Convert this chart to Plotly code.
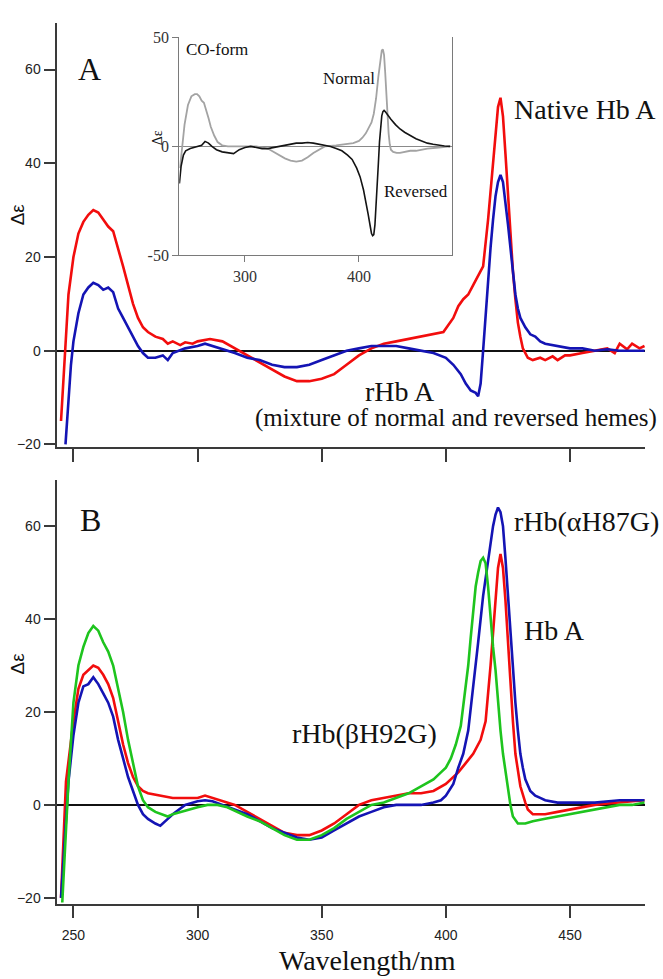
import plotly.graph_objects as go

# ---------------- data ----------------
# Panel A: Native Hb A (red)
a_native_wl = [245, 246, 247, 248, 250, 252, 254, 256, 258, 260, 262, 264, 266, 268, 270, 272, 274, 276, 278, 280,
               283, 286, 288, 290, 293, 295, 298, 300, 305, 310, 315, 320, 325, 330, 335, 340, 345, 350, 355, 360,
               365, 370, 375, 380, 385, 390, 395, 399, 403, 405, 407, 409, 411, 413, 415, 417, 419, 420, 421, 422,
               423, 424, 425, 426, 427, 428, 429, 430, 431, 433, 435, 438, 440, 443, 445, 448, 450, 455, 460, 465,
               468, 470, 473, 475, 478, 480]
a_native_val = [-15, -5, 5, 12, 20, 25, 27.5, 29, 30, 29.5, 28, 26.5, 25.5, 22, 18, 14, 10, 7, 5, 4,
                3, 2.5, 1.5, 2, 1.2, 1.8, 1.5, 2, 2.5, 2, 0.5, -1, -2.5, -4, -5.5, -6.5, -6.5, -6, -5, -3,
                -1, 0.5, 1.5, 2, 2.5, 3, 3.5, 4, 7, 9.5, 11, 12, 14, 16, 18, 28, 40, 47, 52, 54,
                50, 42, 33, 25, 17, 11, 6, 3, 0.5, -1.5, -2, -1.5, -2, -1.2, -2, -1, -1, -0.5, 0, 0.5,
                -0.5, 1.5, 0.3, 1.5, 0.5, 1]

# Panel A: rHb A (blue)
a_rhb_wl = [246.8, 248, 249, 250, 252, 254, 256, 258, 260, 262, 264, 266, 268, 270, 272, 274, 276, 278, 280, 283,
            286, 288, 290, 295, 300, 303, 306, 310, 315, 320, 325, 330, 335, 340, 345, 350, 355, 360, 365, 370,
            375, 380, 385, 390, 395, 400, 403, 406, 408, 410, 412, 413, 414, 415, 416, 417, 418, 419, 420, 421,
            422, 423, 424, 425, 426, 427, 428, 429, 430, 432, 434, 436, 438, 440, 445, 450, 455, 460, 465, 470,
            475, 480]
a_rhb_val = [-20, -10, -3, 2, 8, 12, 13.5, 14.5, 14, 13, 13.5, 12.5, 9, 7, 5, 3, 1, -0.5, -1.5, -1.5,
             -1, -2, -0.5, 0.5, 1, 1.5, 1, 0.5, -0.5, -1.5, -2, -3, -3.5, -3.5, -3, -2, -1, 0, 0.5, 1,
             1, 1, 0.5, 0, -0.5, -1.5, -3, -5, -7, -8.5, -9, -9.7, -7, 0, 8, 15, 22, 28, 33, 36,
             37.5, 36, 32, 27, 22, 17, 12, 9, 7, 5, 3.5, 3, 2, 1.5, 1, 0.5, 0.5, 0, 0.3, 0,
             0, 0]

# Panel B: Hb A (red)
b_hba_wl = [245, 247, 250, 252, 254, 256, 258, 260, 262, 264, 266, 268, 270, 272, 274, 276, 278, 280, 285, 290,
            295, 300, 303, 306, 310, 315, 320, 325, 330, 335, 340, 345, 350, 355, 360, 365, 370, 375, 380, 385,
            390, 395, 400, 405, 408, 411, 414, 416, 418, 420, 421, 422, 423, 424, 425, 426, 427, 428, 429, 430,
            432, 433, 435, 440, 445, 450, 455, 460, 465, 470, 475, 480]
b_hba_val = [-20, 5, 18, 25, 28, 29, 30, 29.5, 28, 26, 23, 18, 13, 9, 6, 4, 3, 2.5, 2, 1.5,
             1.5, 1.5, 2, 1.5, 1, 0, -1.5, -3, -4.5, -6, -6.5, -6.5, -5.5, -4, -2, 0, 1, 1.5, 2, 2.5,
             2.5, 3, 4.5, 7, 9, 11, 14, 18, 30, 45, 51, 54, 51, 44, 35, 26, 18, 11, 7, 4,
             0.5, -1, -2, -2, -1.5, -1, -0.5, 0, 0.3, 0.5, 0.8, 1]

# Panel B: rHb(alphaH87G) (blue)
b_alpha_wl = [245, 248, 250, 252, 254, 256, 258, 260, 262, 264, 266, 268, 270, 272, 274, 276, 278, 280, 283, 285,
              288, 290, 295, 300, 303, 306, 310, 315, 320, 325, 330, 335, 340, 345, 350, 355, 360, 365, 370, 375,
              380, 385, 390, 395, 398, 400, 403, 405, 407, 409, 411, 413, 415, 417, 419, 420, 421, 422, 423, 424,
              425, 426, 427, 428, 429, 430, 431, 432, 434, 436, 438, 440, 445, 450, 460, 470, 480]
b_alpha_val = [-20, 5, 15, 22, 25.5, 26, 27.5, 26, 24, 22, 19, 14, 10, 6, 3, 0, -2, -3, -4, -4.5,
               -3, -2, 0, 0.8, 1, 0.8, 0, -1, -2, -3.5, -5, -6, -7, -7.5, -7, -5.5, -4, -2.5, -1.5, -0.5,
               0, 0, 0, 0.5, 1, 2, 4.5, 8, 11, 16, 25, 35, 45, 53, 60, 62.5, 64, 63, 60, 53,
               45, 37, 29, 22, 16, 11, 8, 5.5, 3, 2, 1.5, 1, 0.5, 0.5, 0.5, 1, 1]

# Panel B: rHb(betaH92G) (green)
b_beta_wl = [245.5, 248, 250, 252, 254, 256, 258, 260, 262, 264, 266, 268, 270, 272, 274, 276, 278, 280, 283, 286,
             288, 290, 293, 296, 300, 304, 308, 312, 316, 320, 325, 330, 335, 340, 345, 350, 355, 360, 365, 370,
             375, 380, 385, 390, 395, 398, 400, 402, 404, 406, 408, 409, 410, 411, 412, 413, 414, 415, 416, 417,
             418, 419, 420, 421, 422, 423, 424, 425, 426, 427, 429, 432, 435, 440, 445, 450, 455, 460, 465, 470,
             475, 480]
b_beta_val = [-21, 5, 22, 30, 34, 37, 38.5, 37.5, 35, 33, 30, 25, 20, 14, 9, 4, 1, -0.5, -1.5, -2,
              -2.5, -2, -1.5, -1, -0.5, 0, 0, -0.5, -1.5, -2.5, -3.5, -5, -6.5, -7.5, -7.5, -6.5, -5, -3, -1.5, 0,
              0.5, 1.5, 2.5, 4, 5.5, 7, 8, 10, 13, 17, 25, 30, 36, 42, 47, 50, 52.5, 53.2, 52, 47,
              40, 34, 29, 22, 16, 11, 7, 3, 0, -2.5, -4, -4, -3.5, -3, -2.5, -2, -1.5, -1, -0.5, 0,
              0, 0.5]

# Inset (CO-form): Normal (gray) and Reversed (black)
ins_normal_wl = [243, 245, 247, 250, 253, 256, 258, 260, 262, 264, 266, 268, 270, 273, 276, 280, 285, 290, 300, 310,
                 320, 325, 330, 335, 340, 345, 350, 355, 360, 365, 370, 380, 390, 395, 400, 403, 406, 409, 411, 413,
                 415, 417, 419, 420, 421, 422, 423, 424, 425, 426, 427, 428, 430, 433, 436, 440, 445, 450, 460, 470,
                 480]
ins_normal_val = [-10, 0, 10, 19, 23, 24, 24, 23, 21, 20, 17, 13, 9, 5, 2, 0.5, 0, 0, 0, 0,
                  -1, -2.5, -4, -5.5, -6.5, -7, -6.5, -5, -3, -1.5, 0, 0.5, 1, 1.5, 2.5, 4, 6, 9, 11, 15,
                  22, 32, 41, 44, 44.5, 42, 34, 24, 14, 6, 1, -1.5, -2.5, -3, -3, -2.5, -2, -2, -1, -0.5,
                  0]
ins_rev_wl = [242.5, 244, 246, 248, 252, 255, 258, 262, 265, 268, 271, 275, 280, 285, 290, 295, 300, 305, 310, 315,
              320, 325, 330, 335, 340, 345, 350, 355, 360, 365, 370, 375, 380, 385, 390, 394, 398, 401, 404, 406,
              408, 410, 411, 412, 413, 414, 415, 416, 417, 418, 419, 420, 421, 422, 423, 425, 428, 432, 436, 440,
              445, 450, 455, 460, 465, 470, 475, 480]
ins_rev_val = [-17, -9, -4, -2, -1, -0.5, 0, 0.5, 2.3, 1.5, 0, -1.5, -2.5, -3, -3.3, -1.5, -0.5, 0, -0.5, -1,
               -1, -0.5, 0, 0.5, 1, 1.5, 1.5, 1.8, 1.5, 1, 0.5, 0, -1, -2, -4, -6, -10, -14, -20, -25,
               -31, -37, -40, -41, -40.5, -36, -28, -18, -8, 2, 9, 14, 16, 16.5, 16, 14.5, 12.5, 10, 8, 6.5,
               5, 3.5, 2.5, 1.5, 1, 0.5, 0.2, 0]

main_xticks = [250, 300, 350, 400, 450]
main_yticks = [-20, 0, 20, 40, 60]
main_yticktext = ["\u221220", "0", "20", "40", "60"]
inset_xticks = [300, 400]
inset_yticks = [-50, 0, 50]
inset_yticktext = ["-50", "0", "50"]

# ---------------- figure ----------------
W, H = 663, 979
RED, BLUE, GREEN = "#f20d0d", "#1414b4", "#1ec41e"
GRAY, BLACK = "#a3a3a3", "#141414"
SERIF = "Liberation Serif, Times New Roman, serif"
SANS = "Liberation Sans, Arial, sans-serif"
AX = "#3a3a3a"


def px_x(x):
    return x / W


def px_y(y):
    return (H - y) / H


fig = go.Figure()
lw = 2.6
fig.add_trace(go.Scatter(x=a_native_wl, y=a_native_val, mode="lines", line=dict(color=RED, width=lw),
                         xaxis="x", yaxis="y"))
fig.add_trace(go.Scatter(x=a_rhb_wl, y=a_rhb_val, mode="lines", line=dict(color=BLUE, width=lw),
                         xaxis="x", yaxis="y"))
fig.add_trace(go.Scatter(x=b_hba_wl, y=b_hba_val, mode="lines", line=dict(color=RED, width=lw),
                         xaxis="x2", yaxis="y2"))
fig.add_trace(go.Scatter(x=b_alpha_wl, y=b_alpha_val, mode="lines", line=dict(color=BLUE, width=lw),
                         xaxis="x2", yaxis="y2"))
fig.add_trace(go.Scatter(x=b_beta_wl, y=b_beta_val, mode="lines", line=dict(color=GREEN, width=lw),
                         xaxis="x2", yaxis="y2"))
fig.add_trace(go.Scatter(x=ins_normal_wl, y=ins_normal_val, mode="lines", line=dict(color=GRAY, width=1.8),
                         xaxis="x3", yaxis="y3"))
fig.add_trace(go.Scatter(x=ins_rev_wl, y=ins_rev_val, mode="lines", line=dict(color=BLACK, width=1.6),
                         xaxis="x3", yaxis="y3"))

main_dom_x = [px_x(57.3), px_x(645)]
common_x = dict(range=[243.5, 480.2], showgrid=False, zeroline=False, showline=True, linecolor=AX,
                linewidth=1.6, ticks="outside", tickwidth=1.6, tickcolor=AX, tickvals=main_xticks,
                tickfont=dict(family=SANS, size=14, color="#222"))
common_y = dict(showgrid=False, zeroline=True, zerolinecolor="#111", zerolinewidth=1.6, showline=True,
                linecolor=AX, linewidth=1.6, ticks="outside", ticklen=12, tickwidth=1.6, tickcolor=AX,
                tickvals=main_yticks, ticktext=main_yticktext,
                tickfont=dict(family=SANS, size=14, color="#222"))

fig.update_layout(
    width=W, height=H, margin=dict(l=0, r=0, t=0, b=0),
    paper_bgcolor="white", plot_bgcolor="rgba(0,0,0,0)", showlegend=False,
    xaxis=dict(domain=main_dom_x, anchor="y", ticklen=13, showticklabels=False, **common_x),
    yaxis=dict(domain=[px_y(447), px_y(15)], anchor="x", range=[-20.6, 70], **common_y),
    xaxis2=dict(domain=main_dom_x, anchor="y2", ticklen=12, showticklabels=True, ticklabelstandoff=6,
                **common_x),
    yaxis2=dict(domain=[px_y(911.7), px_y(480)], anchor="x2", range=[-21.3, 70], **common_y),
    xaxis3=dict(domain=[px_x(179.3), px_x(452)], anchor="y3", range=[242.4, 481.6], showgrid=False,
                zeroline=False, showline=True, linecolor="#7a7a7a", linewidth=1.3, ticks="outside",
                ticklen=6, tickwidth=1.3, tickcolor="#7a7a7a", tickvals=inset_xticks,
                tickfont=dict(family=SERIF, size=16, color="#333")),
    yaxis3=dict(domain=[px_y(251.7), px_y(30)], anchor="x3", range=[-50, 50], showgrid=False,
                zeroline=True, zerolinecolor="#8a8a8a", zerolinewidth=1.3, showline=True, mirror=True,
                linecolor="#7a7a7a", linewidth=1.3, ticks="outside", ticklen=6, tickwidth=1.3,
                tickcolor="#7a7a7a", tickvals=inset_yticks, ticktext=inset_yticktext,
                tickfont=dict(family=SERIF, size=16, color="#333")),
)


def label(text, x, y, size, family=SERIF, xanchor="left", angle=0, color="#111"):
    fig.add_annotation(text=text, x=px_x(x), y=px_y(y), xref="paper", yref="paper", showarrow=False,
                       xanchor=xanchor, yanchor="middle", textangle=angle,
                       font=dict(family=family, size=size, color=color))


label("A", 76, 62, 32)
label("B", 78, 521, 32)
label("Native Hb A", 512, 103, 28)
label("rHb A", 400, 390, 28, xanchor="center")
label("(mixture of normal and reversed hemes)", 659, 417, 25, xanchor="right")
label("rHb(\u03b1H87G)", 512, 523, 28)
label("Hb A", 522, 633, 28)
label("rHb(\u03b2H92G)", 290, 738, 28)
label("CO-form", 184, 42, 17)
label("Normal", 321, 72, 17)
label("Reversed", 382, 187, 17)
label("\u0394\u03b5", 148, 132, 14, angle=-90)
label("\u0394\u03b5", 17, 210, 19, family=SANS, xanchor="center", angle=-90)
label("\u0394\u03b5", 17, 667, 19, family=SANS, xanchor="center", angle=-90)
label("Wavelength/nm", 367, 969, 28, xanchor="center")

fig.write_html(
    "out.html",
    config={"displayModeBar": False},
    post_script="document.body.style.margin='0';document.body.style.padding='0';"
                "document.documentElement.style.overflow='hidden';document.body.style.overflow='hidden';",
)
